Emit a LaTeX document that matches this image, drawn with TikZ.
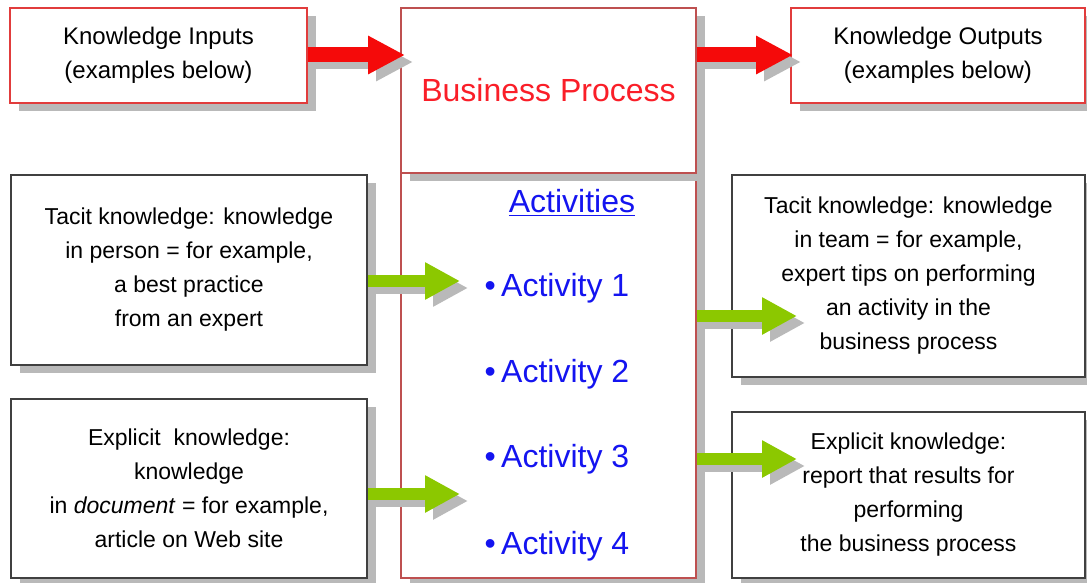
\documentclass[tikz,border=0pt]{standalone}
\usepackage{fontspec}
\setmainfont{Liberation Sans}
\usetikzlibrary{arrows.meta,shadows}
\definecolor{shadowgray}{RGB}{185,185,185}
\definecolor{boxred}{RGB}{225,60,60}
\definecolor{procred}{RGB}{190,80,80}
\definecolor{arrowred}{RGB}{245,10,10}
\definecolor{arrowgreen}{RGB}{140,200,0}
\definecolor{textred}{RGB}{250,30,40}
\definecolor{textblue}{RGB}{20,20,240}

\begin{document}
\begin{tikzpicture}[x = 0.5pt, y = -0.5pt,
		box/.style = {draw = black!75, fill = white, line width = 0.6pt, align = center, inner sep = 0pt,
			drop shadow = {shadow xshift = 4.5pt, shadow yshift = -4pt, fill = shadowgray, opacity = 1}},
		redbox/.style = {box, draw = boxred},
		procbox/.style = {box, draw = procred},
		body/.style = {font = \fontsize{11.5pt}{17pt}\selectfont},
		act/.style = {text = textblue, font = \fontsize{16pt}{18pt}\selectfont},
		redarrow/.style = {draw = arrowred, line width = 7.5pt, -{Triangle[length = 18.5pt, width = 18pt]}},
		greenarrow/.style = {draw = arrowgreen, line width = 6pt, -{Triangle[length = 17.5pt, width = 17.5pt]}},
		shadowed/.style = {draw = shadowgray, transform canvas = {shift = {(4pt, -3.5pt)}}}]
		\useasboundingbox (0, 0) rectangle (1087, 583);
		%%%%%%%%%%%%%
		\node[redbox, minimum width = 148.5pt, minimum height = 47.5pt, font = \fontsize{12pt}{17pt}\selectfont]
			(inputs) at (158.5, 55.5) {Knowledge Inputs\\(examples below)};
		\node[procbox, minimum width = 147.5pt, minimum height = 202.5pt] (acts) at (548.5, 375.5) {};
		\node[procbox, minimum width = 147.5pt, minimum height = 82.5pt, text = textred,
			font = \fontsize{16pt}{18pt}\selectfont] (bp) at (548.5, 90.5) {Business Process};
		\node[redbox, minimum width = 147pt, minimum height = 47.5pt, font = \fontsize{12pt}{17pt}\selectfont]
			(outputs) at (938, 55.5) {Knowledge Outputs\\(examples below)};
		%%%%%%%%%%%%%
		\node[box, body, minimum width = 178pt, minimum height = 95pt] (tacitin) at (189, 270)
			{Tacit knowledge: knowledge\\in person = for example,\\a best practice\\from an expert};
		\node[box, body, minimum width = 178pt, minimum height = 89.5pt] (explin) at (189, 488.5)
			{Explicit\ \ knowledge:\\knowledge\\in \textit{document} = for example,\\article on Web site};
		\node[box, body, minimum width = 176.5pt, minimum height = 101pt] (tacitout) at (908.5, 276)
			{Tacit knowledge: knowledge\\in team = for example,\\expert tips on performing\\an activity in the\\business process};
		\node[box, body, minimum width = 176.5pt, minimum height = 83pt] (explout) at (908.5, 495)
			{Explicit knowledge:\\report that results for\\performing\\the business process};
		%%%%%%%%%%%%%
		\node[act] (head) at (572, 203) {\underline{Activities}};
		\node[act] (act1) at (557, 288) {\textbullet\,Activity 1};
		\node[act] (act2) at (557, 374) {\textbullet\,Activity 2};
		\node[act] (act3) at (557, 459) {\textbullet\,Activity 3};
		\node[act] (act4) at (557, 546) {\textbullet\,Activity 4};
		%%%%%%%%%%%%%
		\coordinate (tipA) at (460, 281); \coordinate (tipB) at (460, 494);
		\coordinate (tipC) at (797, 316); \coordinate (tipD) at (797, 459);
		\coordinate (tipE) at (405, 55); \coordinate (tipF) at (793, 55);
		\foreach \s in {shadowed, {}} {
			\draw[redarrow, \s] (inputs.east |- tipE) to (tipE);
			\draw[redarrow, \s] (bp.east |- tipF) to (tipF);
			\draw[greenarrow, \s] (tacitin.east |- tipA) to (tipA);
			\draw[greenarrow, \s] (explin.east |- tipB) to (tipB);
			\draw[greenarrow, \s] (acts.east |- tipC) to (tipC);
			\draw[greenarrow, \s] (acts.east |- tipD) to (tipD);
		}
\end{tikzpicture}
\end{document}
